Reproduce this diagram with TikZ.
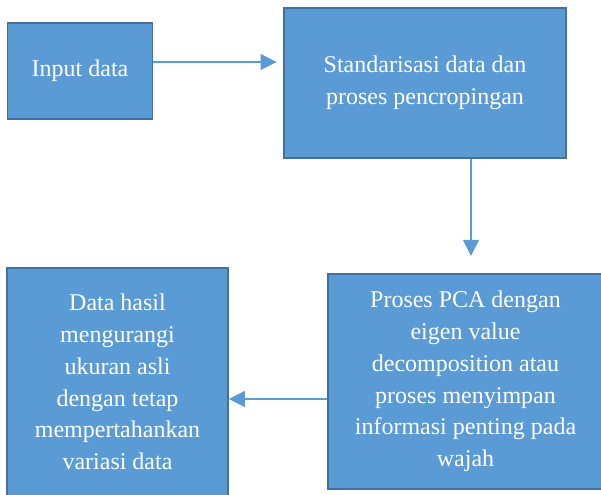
\documentclass[tikz,border=0pt]{standalone}
\usepackage{fontspec}
\setmainfont{Liberation Serif}
\usepackage{xcolor}
\usetikzlibrary{arrows.meta,positioning,calc}

\definecolor{boxfill}{RGB}{91,155,213}
\definecolor{boxline}{RGB}{65,113,156}

\begin{document}
\begin{tikzpicture}[
  x=0.75pt, y=-0.75pt,
  box/.style={draw=boxline, fill=boxfill, line width=1.2pt, inner sep=0pt, align=center, text=white, font=\fontsize{18}{23.8}\selectfont},
  arr/.style={-{Triangle[length=12pt,width=12pt]}, draw=boxfill, fill=boxfill, line width=0.8pt}
]
  \useasboundingbox (0,0) rectangle (601,495);
  \node[box, minimum width=108.75pt, minimum height=72pt] (inp) at (80,71) {Input data};
  \node[box, minimum width=211.5pt, minimum height=112.5pt] (stdz) at (425,83) {Standarisasi data dan\\proses pencropingan};
  \node[box, minimum width=206.25pt, minimum height=161.25pt] (pca) at (465.5,381.5) {Proses PCA dengan\\eigen value\\decomposition atau\\proses menyimpan\\informasi penting pada\\wajah};
  \node[box, minimum width=165.75pt, minimum height=171pt] (hasil) at (117.5,382) {Data hasil\\mengurangi\\ukuran asli\\dengan tetap\\mempertahankan\\variasi data};
  \coordinate (lvl) at (0,62);
  \coordinate (drop) at (471,0);
  \coordinate (back) at (0,399);
  \draw[arr, shorten >=5pt] (inp.east |- lvl) -- (stdz.west |- lvl);
  \draw[arr, shorten >=13pt] (stdz.south -| drop) -- (pca.north -| drop);
  \draw[arr] (pca.west |- back) -- (hasil.east |- back);
\end{tikzpicture}
\end{document}
